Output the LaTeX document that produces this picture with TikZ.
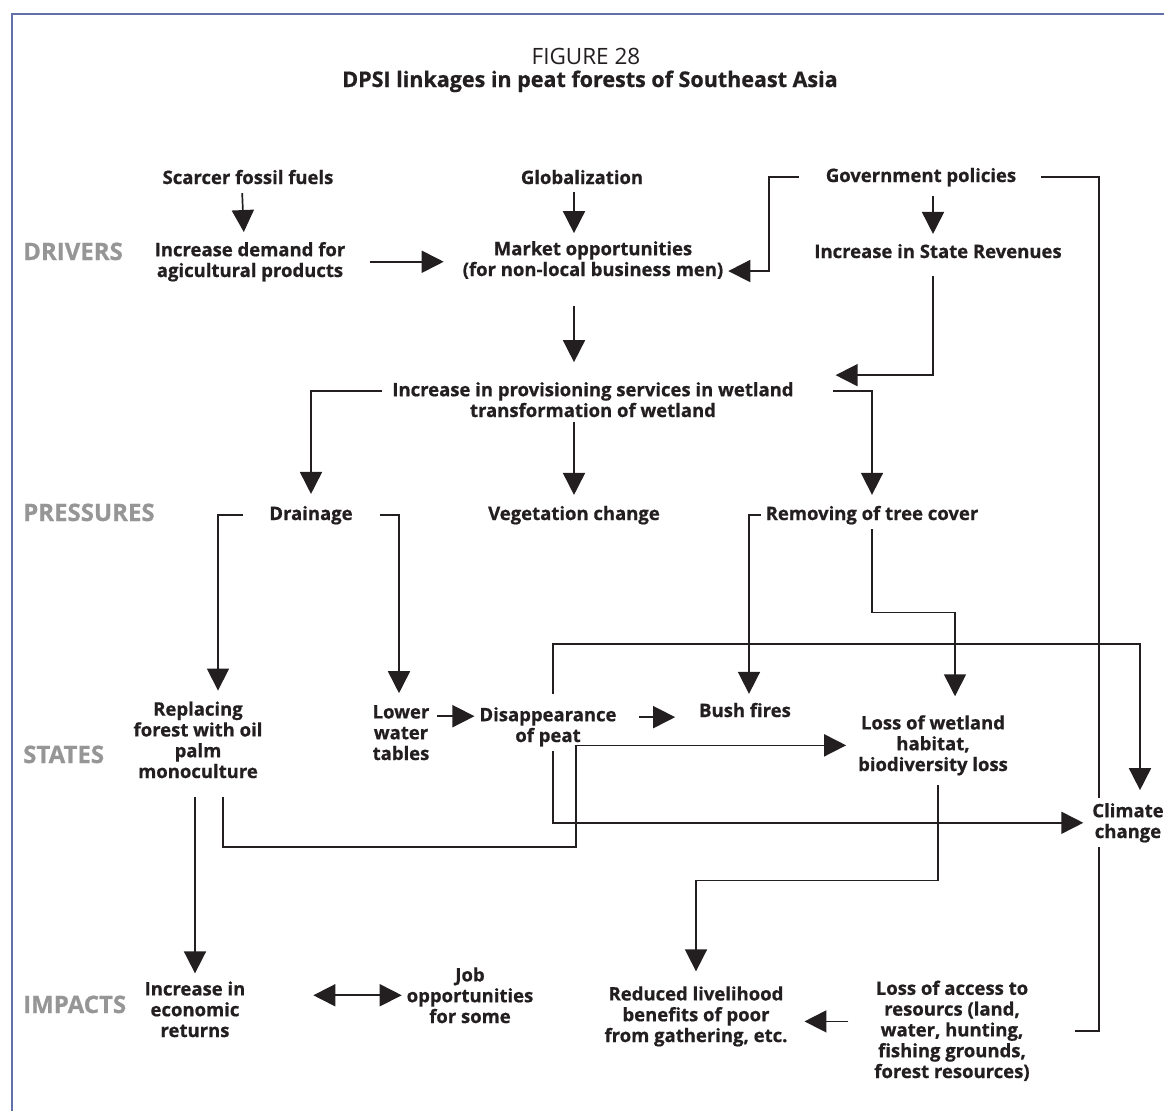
\documentclass[tikz,border=0pt]{standalone}
\usepackage{fontspec}
\setmainfont{Open Sans}[BoldFeatures={FakeBold=0.8}]
\usepackage{tikz}
\usetikzlibrary{arrows.meta}
\usetikzlibrary{backgrounds}
\definecolor{framecol}{RGB}{98,112,170}
\definecolor{stagegray}{RGB}{150,150,150}
\definecolor{inkcol}{RGB}{35,31,32}

\begin{document}
\begin{tikzpicture}[x=1pt, y=-1pt,
    box/.style={align=center, anchor=base, inner sep=5pt, outer sep=0pt, text=inkcol,
        font=\bfseries\fontsize{18.5}{20.8}\selectfont},
    stage/.style={anchor=base west, inner sep=0pt, text=stagegray,
        font=\bfseries\fontsize{24}{27}\selectfont},
    link/.style={line width=1.7pt, draw=inkcol},
    arr/.style={link, -{Triangle[width=22pt,length=22pt]}},
    dbl/.style={link, {Triangle[width=22pt,length=22pt]}-{Triangle[width=22pt,length=22pt]}}]
        \useasboundingbox (0,0) rectangle (1164,1111);
        \draw[framecol, line width=2pt] (12,1111) -- (12,14) -- (1164,14);
        %title
        \node[anchor=base, text=inkcol, font=\fontsize{22.5}{26}\selectfont] (fig) at (586,64) {FIGURE 28};
        \node[anchor=base, text=inkcol, font=\bfseries\fontsize{21.5}{26}\selectfont] (title) at (590,87) {DPSI linkages in peat forests of Southeast Asia};
        %stages
        \node[stage] (drivers) at (23,260) {DRIVERS};
        \node[stage] (pressures) at (23,521) {PRESSURES};
        \node[stage] (states) at (23,763) {STATES};
        \node[stage] (impacts) at (23,1013) {IMPACTS};
        %drivers (multi-line nodes sit on their last baseline)
        \node[box] (fossil) at (248,184) {Scarcer fossil fuels};
        \node[box] (glob) at (582,184) {Globalization};
        \node[box] (gov) at (921,182) {Government policies};
        \node[box] (demand) at (250,277) {Increase demand for\\agicultural products};
        \node[box] (market) at (593,276) {Market opportunities\\(for non-local business men)};
        \node[box] (revenue) at (938,258) {Increase in State Revenues};
        \node[box] (prov) at (593,417) {Increase in provisioning services in wetland\\transformation of wetland};
        %pressures
        \node[box] (drain) at (311,520) {Drainage};
        \node[box] (veg) at (574,520) {Vegetation change};
        \node[box] (tree) at (872,520) {Removing of tree cover};
        %states
        \node[box] (replace) at (198,778) {Replacing\\forest with oil\\palm\\monoculture};
        \node[box] (lower) at (401,760) {Lower\\water\\tables};
        \node[box] (peat) at (548,742) {Disappearance\\of peat};
        \node[box] (bush) at (745,717) {Bush fires};
        \node[box] (loss) at (933,771) {Loss of wetland\\habitat,\\biodiversity loss};
        \node[box, fill=white] (climate) at (1128,838) {Climate\\change};
        %impacts
        \node[box] (returns) at (195,1037) {Increase in\\economic\\returns};
        \node[box] (job) at (470,1023) {Job\\opportunities\\for some};
        \node[box] (reduced) at (696,1042) {Reduced livelihood\\benefits of poor\\from gathering, etc.};
        \node[box] (access) at (952,1078) {Loss of access to\\resourcs (land,\\water, hunting,\\fishing grounds,\\forest resources)};
        \begin{pgfonlayer}{background}
        %drivers array
        \draw[arr, shorten <=4pt, shorten >=5pt] ([xshift=-6pt]fossil.south) -- ([xshift=-6pt]demand.north);
        \draw[arr, shorten <=3pt, shorten >=3pt] ([xshift=-8pt]glob.south) -- ([xshift=-8pt]glob.south |- market.north);
        \draw[arr, shorten <=5pt, shorten >=5pt] ([xshift=12pt]gov.south) -- ([xshift=12pt]gov.south |- revenue.north);
        \draw[arr, shorten <=20pt, shorten >=14pt] (demand.east) -- (demand.east -| market.west);
        \draw[arr, shorten <=22pt] (gov.west) -- ++(-52,0) |- ([yshift=-11pt]market.east);
        \draw[arr, shorten <=22pt, shorten >=15pt] ([xshift=-19pt]market.south) -- ([xshift=-19pt]market.south |- prov.north);
        \draw[arr, shorten <=13pt] ([xshift=-5pt]revenue.south) |- ([xshift=37pt,yshift=2pt]prov.north east);
        %pressures array
        \draw[arr, shorten <=5pt, shorten >=7pt] ([yshift=-14pt]prov.north west) -| (drain.north);
        \draw[arr, shorten >=6pt] ([xshift=-19pt]prov.south) -- ([xshift=-19pt]prov.south |- veg.north);
        \draw[arr, shorten <=34pt, shorten >=6pt] ([yshift=-14pt]prov.north east) -| (tree.north);
        %states array
        \draw[arr, shorten <=21pt, shorten >=6pt] (drain.west) -| ([xshift=20pt]replace.north);
        \draw[arr, shorten <=22pt, shorten >=7pt] (drain.east) -| ([xshift=-2pt]lower.north);
        \draw[arr, shorten <=3pt] ([yshift=-16pt]lower.north east) -- ([yshift=-16pt]lower.north east -| peat.west);
        \draw[arr, shorten <=17pt, shorten >=19pt] ([yshift=-15pt]peat.north east) -- ([yshift=-15pt]peat.north east -| bush.west);
        \draw[arr, shorten >=4pt] (tree.west) -| ([xshift=4pt]bush.north);
        \draw[arr, shorten >=14pt] (tree.south) -- ++(0,83) -| ([xshift=22pt]loss.north);
        \draw[arr, shorten <=8pt, shorten >=8pt] ([xshift=5pt]peat.north) -- ++(0,-58) -| ([xshift=12pt]climate.north);
        \draw[arr, shorten >=4pt] ([xshift=5pt]peat.south) |- (climate.west);
        \draw[arr, shorten <=14pt, shorten >=7pt] ([xshift=25pt]replace.south) -- ++(0,64) -- ++(353,0) |- (loss.west);
        %impacts array
        \draw[arr, shorten <=14pt, shorten >=3pt] ([xshift=-3pt]replace.south) -- ([xshift=-3pt]replace.south |- returns.north);
        \draw[arr, shorten <=5pt, shorten >=10pt] ([xshift=5pt]loss.south) -- ++(0,100) -| (reduced.north);
        \draw[dbl, shorten <=63pt] (returns.east |- job.west) -- (job.west);
        \draw[arr, shorten <=21pt, shorten >=12pt] ([yshift=-5pt]reduced.east -| access.west) -- ([yshift=-5pt]reduced.east);
        \draw[link, shorten <=20pt, shorten >=40pt] (gov.east) -- ++(78,0) |- (access.east);
        \end{pgfonlayer}
    \end{tikzpicture}
\end{document}
